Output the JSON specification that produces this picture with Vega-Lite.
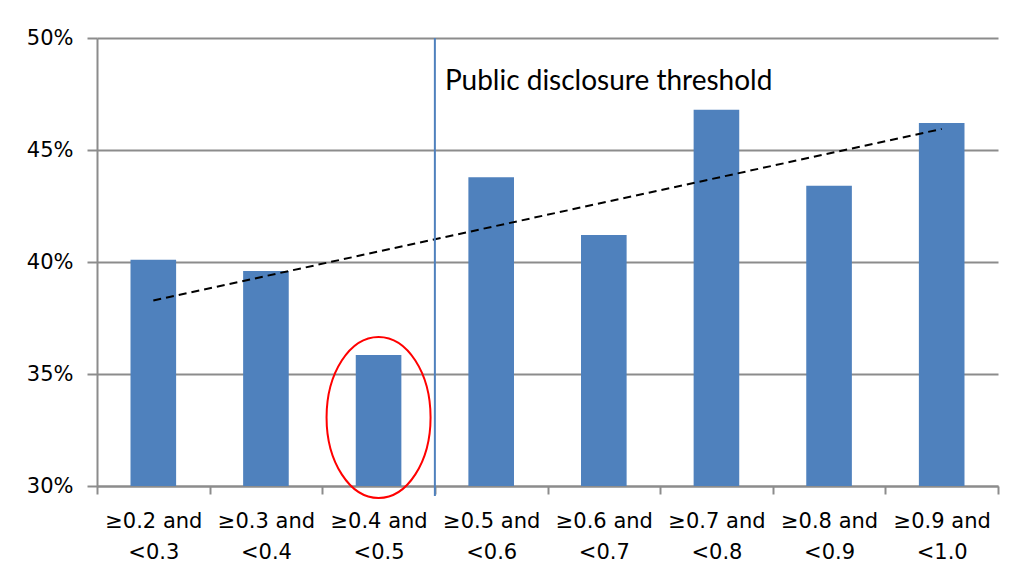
{
  "$schema": "https://vega.github.io/schema/vega-lite/v6.json",
  "width": 901,
  "height": 448,
  "autosize": {"type": "none"},
  "padding": {"left": 97, "top": 38, "right": 13, "bottom": 90},
  "background": "white",
  "config": {"view": {"stroke": null}},
  "datasets": {
    "bars": [
      {"category": "≥0.2 and <0.3", "share": 0.401},
      {"category": "≥0.3 and <0.4", "share": 0.396},
      {"category": "≥0.4 and <0.5", "share": 0.3585},
      {"category": "≥0.5 and <0.6", "share": 0.4378},
      {"category": "≥0.6 and <0.7", "share": 0.412},
      {"category": "≥0.7 and <0.8", "share": 0.468},
      {"category": "≥0.8 and <0.9", "share": 0.434},
      {"category": "≥0.9 and <1.0", "share": 0.462}
    ],
    "trend": [
      {"category": "≥0.2 and <0.3", "share": 0.3828},
      {"category": "≥0.9 and <1.0", "share": 0.4594}
    ],
    "highlight": [
      {"category": "≥0.4 and <0.5", "share": 0.3306}
    ],
    "threshold": [
      {"category": "≥0.5 and <0.6", "label": "Public disclosure threshold"}
    ]
  },
  "encoding": {
    "x": {
      "field": "category",
      "type": "nominal",
      "sort": null,
      "scale": {"paddingInner": 0, "paddingOuter": 0, "domain": ["≥0.2 and <0.3", "≥0.3 and <0.4", "≥0.4 and <0.5", "≥0.5 and <0.6", "≥0.6 and <0.7", "≥0.7 and <0.8", "≥0.8 and <0.9", "≥0.9 and <1.0"]},
      "axis": {
        "title": null,
        "labelAngle": 0,
        "labelFont": "DejaVu Sans",
        "labelFontSize": 21,
        "labelColor": "#000000",
        "labelLineHeight": 31,
        "labelPadding": 16,
        "labelBaseline": "top",
        "labelExpr": "split(replace(datum.label, ' <', '|<'), '|')",
        "domainColor": "#8c8c8c",
        "domainWidth": 2,
        "tickColor": "#8c8c8c",
        "tickWidth": 2,
        "tickSize": 8,
        "tickBand": "extent",
        "grid": false
      }
    }
  },
  "layer": [
    {
      "data": {"name": "bars"},
      "mark": {"type": "bar", "color": "#4F81BD", "width": {"band": 0.405}},
      "encoding": {
        "y": {
          "field": "share",
          "type": "quantitative",
          "scale": {"domain": [0.3, 0.5], "zero": false, "nice": false},
          "axis": {
            "title": null,
            "format": ".0%",
            "values": [0.3, 0.35, 0.4, 0.45, 0.5],
            "labelFont": "DejaVu Sans",
            "labelFontSize": 21,
            "labelColor": "#000000",
            "labelPadding": 14,
            "domainColor": "#8c8c8c",
            "domainWidth": 2,
            "tickColor": "#8c8c8c",
            "tickWidth": 2,
            "tickSize": 10,
            "gridColor": "#8c8c8c",
            "gridWidth": 2
          }
        },
        "y2": {"datum": 0.3}
      }
    },
    {
      "data": {"name": "trend"},
      "mark": {"type": "line", "color": "#000000", "strokeWidth": 2, "strokeDash": [8, 5]},
      "encoding": {
        "y": {"field": "share", "type": "quantitative"}
      }
    },
    {
      "data": {"name": "threshold"},
      "mark": {"type": "rule", "color": "#4F81BD", "strokeWidth": 2, "clip": false},
      "encoding": {
        "x": {"field": "category", "type": "nominal", "bandPosition": 0},
        "y": {"datum": 0.5},
        "y2": {"datum": 0.2955}
      }
    },
    {
      "data": {"name": "threshold"},
      "mark": {"type": "text", "align": "left", "baseline": "middle", "dx": 10, "font": "Lato", "fontSize": 28, "color": "#000000"},
      "encoding": {
        "x": {"field": "category", "type": "nominal", "bandPosition": 0},
        "y": {"datum": 0.4805},
        "text": {"field": "label"}
      }
    },
    {
      "data": {"name": "highlight"},
      "mark": {"type": "point", "shape": "M -0.646 0 A 0.646 1 0 1 0 0.646 0 A 0.646 1 0 1 0 -0.646 0 Z", "size": 25921, "filled": false, "color": "#FF0000", "strokeWidth": 2, "opacity": 1},
      "encoding": {
        "y": {"field": "share", "type": "quantitative"}
      }
    }
  ]
}
